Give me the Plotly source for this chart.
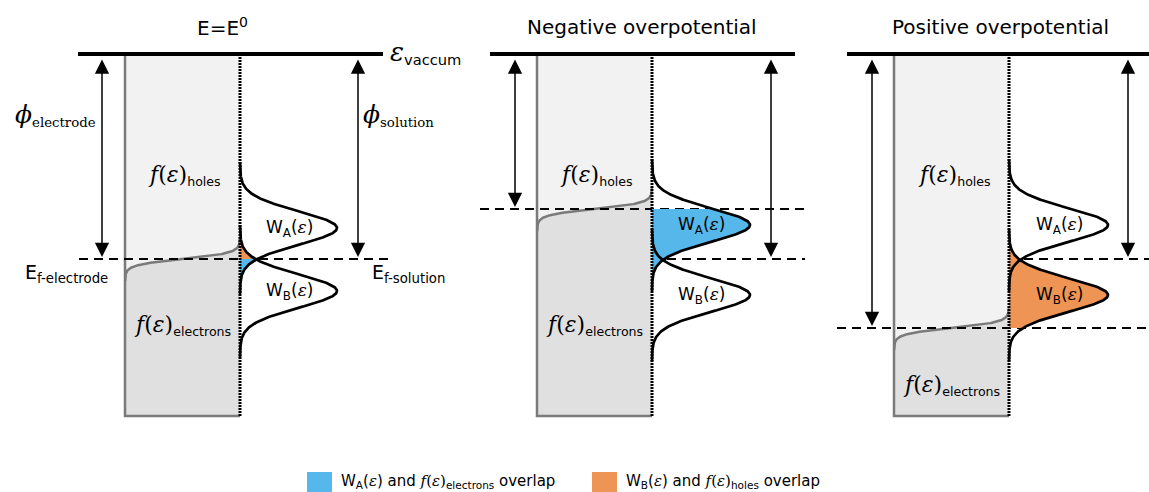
import numpy as np
import plotly.graph_objects as go

# ---- canvas (diagram units = pixels, y grows downward) ----
FIG_W, FIG_H = 1149, 492

# ---- panel layout ----
titles = ["E=E<sup>0</sup>", "Negative overpotential", "Positive overpotential"]
title_x = [222, 642, 1000]
electrode_left = [125, 537, 894]
interface_x = [240, 652, 1009]
vacuum_start = [78, 490, 847]
vacuum_end = [383, 795, 1149]

# ---- energy levels per panel ----
ef_electrode = [259, 209, 328]
ef_solution = [259, 259, 259]
wa_center = [228, 225, 225]
wb_center = [291, 295, 295]
dos_peak = [97, 98, 99]

# ---- work-function arrows and Fermi level guides ----
phi_electrode_x = [102, 515, 872]
phi_solution_x = [358, 771, 1128]
fermi_line_start = [79, 480, 837]
fermi_line_end = [388, 805, 1149]

# ---- label positions ----
holes_label_x = [184, 596, 954]
holes_label_y = [175, 175, 175]
electrons_label_x = [182, 594, 951]
electrons_label_y = [325, 325, 385]
w_label_x = [289, 701, 1059]

VACUUM_Y = 54
BOX_BOTTOM = 416
DOS_SIGMA = 16.7
DOS_HALF_SPAN = 66
FERMI_KT = 3.0
FERMI_HALF_SPAN = 22

HOLES_GRAY = "#f2f2f2"
ELECTRONS_GRAY = "#e0e0e0"
EDGE_GRAY = "#7a7a7a"
BLUE = "#56B7EA"
ORANGE = "#EE9455"
SERIF = "DejaVu Serif"
SANS = "DejaVu Sans"

fig = go.Figure()


def add_poly(xs, ys, color):
    fig.add_trace(go.Scatter(x=list(xs), y=list(ys), mode="lines", fill="toself",
                             fillcolor=color, line=dict(width=0), hoverinfo="skip",
                             showlegend=False))


def add_line(xs, ys, color="black", width=2.0, dash="solid"):
    fig.add_trace(go.Scatter(x=list(xs), y=list(ys), mode="lines",
                             line=dict(color=color, width=width, dash=dash),
                             hoverinfo="skip", showlegend=False))


def dos(y, center, peak):
    return peak * np.exp(-((y - center) ** 2) / (2 * DOS_SIGMA ** 2))


for p in range(3):
    L, R = electrode_left[p], interface_x[p]
    ef = ef_electrode[p]

    # electrode: empty states (holes) background
    add_poly([L, R, R, L], [VACUUM_Y, VACUUM_Y, BOX_BOTTOM, BOX_BOTTOM], HOLES_GRAY)

    # occupied states below the Fermi-Dirac edge
    fy = np.linspace(ef + FERMI_HALF_SPAN, ef - FERMI_HALF_SPAN, 240)
    fx = L + (R - L) / (1 + np.exp((fy - ef) / FERMI_KT))
    add_poly([L, L] + list(fx) + [R, R],
             [BOX_BOTTOM, ef + FERMI_HALF_SPAN] + list(fy) + [ef - FERMI_HALF_SPAN, BOX_BOTTOM],
             ELECTRONS_GRAY)
    add_line(fx, fy, EDGE_GRAY, 2.5)
    add_line([L, L, R], [VACUUM_Y, BOX_BOTTOM, BOX_BOTTOM], EDGE_GRAY, 2.5)

    # Fermi level guides
    add_line([fermi_line_start[p], fermi_line_end[p]], [ef, ef], "black", 2, "9px,6px")
    if ef_solution[p] != ef:
        add_line([R, fermi_line_end[p]], [ef_solution[p], ef_solution[p]], "black", 2, "9px,6px")

    # overlap of W_A with filled electrode states
    ya = np.linspace(max(ef, wa_center[p] - DOS_HALF_SPAN), wa_center[p] + DOS_HALF_SPAN, 200)
    add_poly(list(R + dos(ya, wa_center[p], dos_peak[p])) + [R, R],
             list(ya) + [ya[-1], ya[0]], BLUE)
    # overlap of W_B with empty electrode states
    yb = np.linspace(wb_center[p] - DOS_HALF_SPAN, min(ef, wb_center[p] + DOS_HALF_SPAN), 200)
    add_poly(list(R + dos(yb, wb_center[p], dos_peak[p])) + [R, R],
             list(yb) + [yb[-1], yb[0]], ORANGE)

    # redox densities of states
    for c in (wa_center[p], wb_center[p]):
        gy = np.linspace(c - DOS_HALF_SPAN, c + DOS_HALF_SPAN, 300)
        add_line(R + dos(gy, c, dos_peak[p]), gy, "black", 2.7)

    # electrode / solution interface
    add_line([R, R], [VACUUM_Y, BOX_BOTTOM], "black", 3, "2px,1px")

    # vacuum level
    add_line([vacuum_start[p], vacuum_end[p]], [VACUUM_Y, VACUUM_Y], "black", 4)

annotations = []


def label(x, y, text, size, family=SANS, xanchor="center", yanchor="middle"):
    annotations.append(dict(x=x, y=y, xref="x", yref="y", text=text, showarrow=False,
                            xanchor=xanchor, yanchor=yanchor,
                            font=dict(family=family, size=size, color="black")))


def arrow(x, y_top, y_bottom):
    annotations.append(dict(x=x, y=y_bottom, ax=x, ay=y_top, xref="x", yref="y",
                            axref="x", ayref="y", text="", showarrow=True,
                            arrowhead=2, startarrowhead=2, arrowside="end+start",
                            arrowsize=1.9, startarrowsize=1.9, arrowwidth=1.5,
                            arrowcolor="black", standoff=0, startstandoff=0))


f_eps = f'<span style="font-family:{SERIF};font-size:22px"><i>f</i>(<i>ε</i>)</span>'
eps = f'<span style="font-family:{SERIF}"><i>ε</i></span>'

for p in range(3):
    label(title_x[p], 27, titles[p], 20)
    label(holes_label_x[p], holes_label_y[p], f_eps + "<sub>holes</sub>", 18)
    label(electrons_label_x[p], electrons_label_y[p], f_eps + "<sub>electrons</sub>", 18)
    label(w_label_x[p], wa_center[p], "W<sub>A</sub>(" + eps + ")", 17)
    label(w_label_x[p], wb_center[p], "W<sub>B</sub>(" + eps + ")", 17)
    arrow(phi_electrode_x[p], VACUUM_Y + 4, ef_electrode[p] - 2)
    arrow(phi_solution_x[p], VACUUM_Y + 4, ef_solution[p] - 2)

# side labels of the first panel
label(388, 52, f'<span style="font-family:{SERIF};font-size:26px"><i>ε</i></span><sub>vaccum</sub>',
      21, xanchor="left")
label(13, 115, '<span style="font-size:25px"><i>ϕ</i></span><sub>electrode</sub>', 19,
      family=SERIF, xanchor="left")
label(361, 115, '<span style="font-size:25px"><i>ϕ</i></span><sub>solution</sub>', 19,
      family=SERIF, xanchor="left")
label(23, 273, "E<sub>f-electrode</sub>", 19, xanchor="left")
label(370, 273, "E<sub>f-solution</sub>", 19, xanchor="left")

# key
legend_items = [
    (BLUE, 307, "W<sub>A</sub>(" + eps + ") and " +
     f'<span style="font-family:{SERIF}"><i>f</i>(<i>ε</i>)</span>' + "<sub>electrons</sub> overlap"),
    (ORANGE, 592, "W<sub>B</sub>(" + eps + ") and " +
     f'<span style="font-family:{SERIF}"><i>f</i>(<i>ε</i>)</span>' + "<sub>holes</sub> overlap"),
]
shapes = []
for color, x0, text in legend_items:
    shapes.append(dict(type="rect", xref="x", yref="y", x0=x0, x1=x0 + 25, y0=472, y1=493,
                       fillcolor=color, line=dict(width=0)))
    label(x0 + 32, 481, text, 15, xanchor="left")

fig.update_layout(
    width=FIG_W, height=FIG_H,
    margin=dict(l=0, r=0, t=0, b=0),
    paper_bgcolor="white", plot_bgcolor="white",
    xaxis=dict(range=[0, FIG_W], visible=False, fixedrange=True),
    yaxis=dict(range=[FIG_H, 0], visible=False, fixedrange=True),
    annotations=annotations, shapes=shapes,
    showlegend=False,
)

fig.write_html("out.html")
